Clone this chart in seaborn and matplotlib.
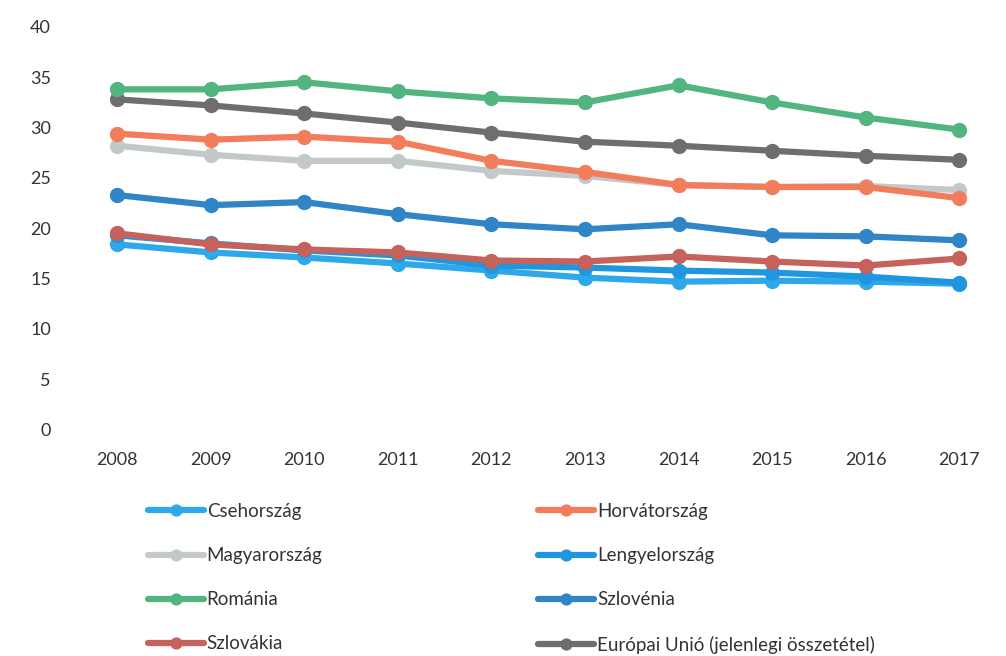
import pandas as pd
import matplotlib.pyplot as plt
import seaborn as sns

years = [2008, 2009, 2010, 2011, 2012, 2013, 2014, 2015, 2016, 2017]

csehorszag = [18.4, 17.6, 17.1, 16.5, 15.8, 15.1, 14.7, 14.8, 14.7, 14.5]
horvatorszag = [29.4, 28.8, 29.1, 28.6, 26.7, 25.6, 24.3, 24.1, 24.1, 23.0]
magyarorszag = [28.2, 27.3, 26.7, 26.7, 25.7, 25.2, 24.3, 24.1, 24.2, 23.8]
lengyelorszag = [19.3, 18.5, 17.8, 17.3, 16.3, 16.1, 15.8, 15.6, 15.2, 14.6]
romania = [33.8, 33.8, 34.5, 33.6, 32.9, 32.5, 34.2, 32.5, 31.0, 29.8]
szlovenia = [23.3, 22.3, 22.6, 21.4, 20.4, 19.9, 20.4, 19.3, 19.2, 18.8]
szlovakia = [19.5, 18.4, 17.9, 17.6, 16.8, 16.7, 17.2, 16.7, 16.3, 17.0]
eu = [32.8, 32.2, 31.4, 30.5, 29.5, 28.6, 28.2, 27.7, 27.2, 26.8]

series = {
    'Csehország': csehorszag,
    'Magyarország': magyarorszag,
    'Románia': romania,
    'Szlovákia': szlovakia,
    'Horvátország': horvatorszag,
    'Lengyelország': lengyelorszag,
    'Szlovénia': szlovenia,
    'Európai Unió (jelenlegi összetétel)': eu,
}

colors = {
    'Csehország': '#2ea8e8',
    'Magyarország': '#c3c8c8',
    'Románia': '#52b47e',
    'Szlovákia': '#c5625b',
    'Horvátország': '#f17d5b',
    'Lengyelország': '#2196e0',
    'Szlovénia': '#2f85c6',
    'Európai Unió (jelenlegi összetétel)': '#6e6e6e',
}

# drawing order (later = on top)
draw_order = ['Csehország', 'Lengyelország', 'Szlovénia', 'Magyarország',
              'Horvátország', 'Európai Unió (jelenlegi összetétel)', 'Románia', 'Szlovákia']

rows = []
for name, vals in series.items():
    for y, v in zip(years, vals):
        rows.append({'year': y, 'value': v, 'country': name})
df = pd.DataFrame(rows)

sns.set_theme(style='white')
plt.rcParams['font.family'] = ['Lato', 'DejaVu Sans']

fig = plt.figure(figsize=(10.06, 6.56), dpi=100)
ax = fig.add_axes([0.07, 0.345, 0.93, 0.614])

handles = {}
for name in draw_order:
    sub = df[df['country'] == name]
    sns.lineplot(data=sub, x='year', y='value', ax=ax, color=colors[name],
                 linewidth=4.5, marker='o', markersize=11, markeredgewidth=0,
                 label=name, legend=False)
    handles[name] = ax.lines[-1]

ax.set_ylim(0, 40)
ax.set_xlim(2007.5, 2017.5)
ax.set_yticks(range(0, 41, 5))
ax.set_xticks(years)
ax.set_xlabel('')
ax.set_ylabel('')
ax.tick_params(axis='both', labelsize=13, colors='#333333', length=0)
ax.tick_params(axis='y', pad=14)
ax.tick_params(axis='x', pad=16)
sns.despine(ax=ax, left=True, bottom=True)

names = list(series.keys())
fig.legend([handles[n] for n in names], names, loc='lower left',
           bbox_to_anchor=(0.13, -0.022), ncol=2, frameon=False,
           fontsize=13.5, handlelength=3.0, handletextpad=0.15,
           columnspacing=11.5, labelspacing=1.45, labelcolor='#333333',
           markerscale=0.8)

fig.savefig('out.png', dpi=100)
